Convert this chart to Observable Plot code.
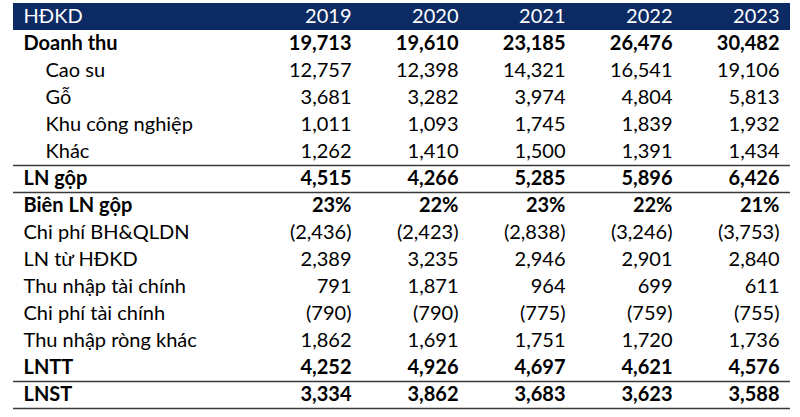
<!DOCTYPE html>
<html><head><meta charset="utf-8">
<script src="https://cdn.jsdelivr.net/npm/d3@7"></script>
<script src="https://cdn.jsdelivr.net/npm/@observablehq/plot@0.6"></script>
<style>body{margin:0;background:#fff} svg{display:block}</style>
</head><body><div id="chart"></div>
<script>
const header = "HĐKD";
const years = ["2019", "2020", "2021", "2022", "2023"];
const rowLabels = ["Doanh thu", "Cao su", "Gỗ", "Khu công nghiệp", "Khác", "LN gộp", "Biên LN gộp",
  "Chi phí BH&QLDN", "LN từ HĐKD", "Thu nhập tài chính", "Chi phí tài chính", "Thu nhập ròng khác", "LNTT", "LNST"];
const indentedRows = ["Cao su", "Gỗ", "Khu công nghiệp", "Khác"];
const boldRows = ["Doanh thu", "LN gộp", "Biên LN gộp", "LNTT", "LNST"];
const percentRows = ["Biên LN gộp"];
const borderBelowRows = ["Khác", "LN gộp", "LNTT", "LNST"];

const doanhThu = [19713, 19610, 23185, 26476, 30482];
const caoSu = [12757, 12398, 14321, 16541, 19106];
const go = [3681, 3282, 3974, 4804, 5813];
const khuCongNghiep = [1011, 1093, 1745, 1839, 1932];
const khac = [1262, 1410, 1500, 1391, 1434];
const lnGop = [4515, 4266, 5285, 5896, 6426];
const bienLnGop = [23, 22, 23, 22, 21];
const chiPhiBhQldn = [-2436, -2423, -2838, -3246, -3753];
const lnTuHdkd = [2389, 3235, 2946, 2901, 2840];
const thuNhapTaiChinh = [791, 1871, 964, 699, 611];
const chiPhiTaiChinh = [-790, -790, -775, -759, -755];
const thuNhapRongKhac = [1862, 1691, 1751, 1720, 1736];
const lntt = [4252, 4926, 4697, 4621, 4576];
const lnst = [3334, 3862, 3683, 3623, 3588];

const rowValues = [doanhThu, caoSu, go, khuCongNghiep, khac, lnGop, bienLnGop, chiPhiBhQldn,
  lnTuHdkd, thuNhapTaiChinh, chiPhiTaiChinh, thuNhapRongKhac, lntt, lnst];

const cells = rowLabels.flatMap((row, i) => years.map((year, j) => ({row, year, value: rowValues[i][j]})));
const fmt = d3.format(",");
const show = d => percentRows.includes(d.row) ? d.value + "%"
  : d.value < 0 ? "(" + fmt(-d.value) + ")" : fmt(d.value);
const isBold = r => boldRows.includes(r);
const isIndent = r => indentedRows.includes(r);

const chart = Plot.plot({
  width: 800,
  height: 417,
  marginLeft: 13,
  marginRight: 10,
  marginTop: 2,
  marginBottom: 8,
  x: {type: "point", domain: years, range: [350, 780], padding: 0, axis: null},
  y: {type: "band", domain: [header, ...rowLabels], range: [2, 408.5], padding: 0, axis: null},
  style: {fontFamily: "Lato, sans-serif", fontSize: "20px", background: "#fff"},
  marks: [
    Plot.cell([header], {y: d => d, fill: "#0c2a64"}),
    Plot.text([header], {y: d => d, text: d => d, frameAnchor: "left", dx: 10, textAnchor: "start", fill: "white"}),
    Plot.text(years, {x: d => d, y: () => header, text: d => d, textAnchor: "end", fill: "white"}),
    Plot.text(rowLabels.filter(r => !isIndent(r) && isBold(r)), {y: d => d, text: d => d, frameAnchor: "left", dx: 10, textAnchor: "start", fontWeight: "bold", fill: "black"}),
    Plot.text(rowLabels.filter(r => !isIndent(r) && !isBold(r)), {y: d => d, text: d => d, frameAnchor: "left", dx: 10, textAnchor: "start", fill: "black"}),
    Plot.text(rowLabels.filter(r => isIndent(r)), {y: d => d, text: d => d, frameAnchor: "left", dx: 32, textAnchor: "start", fill: "black"}),
    Plot.text(cells.filter(d => isBold(d.row)), {x: "year", y: "row", text: show, textAnchor: "end", fontWeight: "bold", fill: "black"}),
    Plot.text(cells.filter(d => !isBold(d.row)), {x: "year", y: "row", text: show, textAnchor: "end", fill: "black"}),
    Plot.ruleY(borderBelowRows, {y: d => d, dy: 13.5, stroke: "#3a3a3a", strokeWidth: 1.5})
  ]
});
document.getElementById("chart").appendChild(chart);
</script>
</body></html>
